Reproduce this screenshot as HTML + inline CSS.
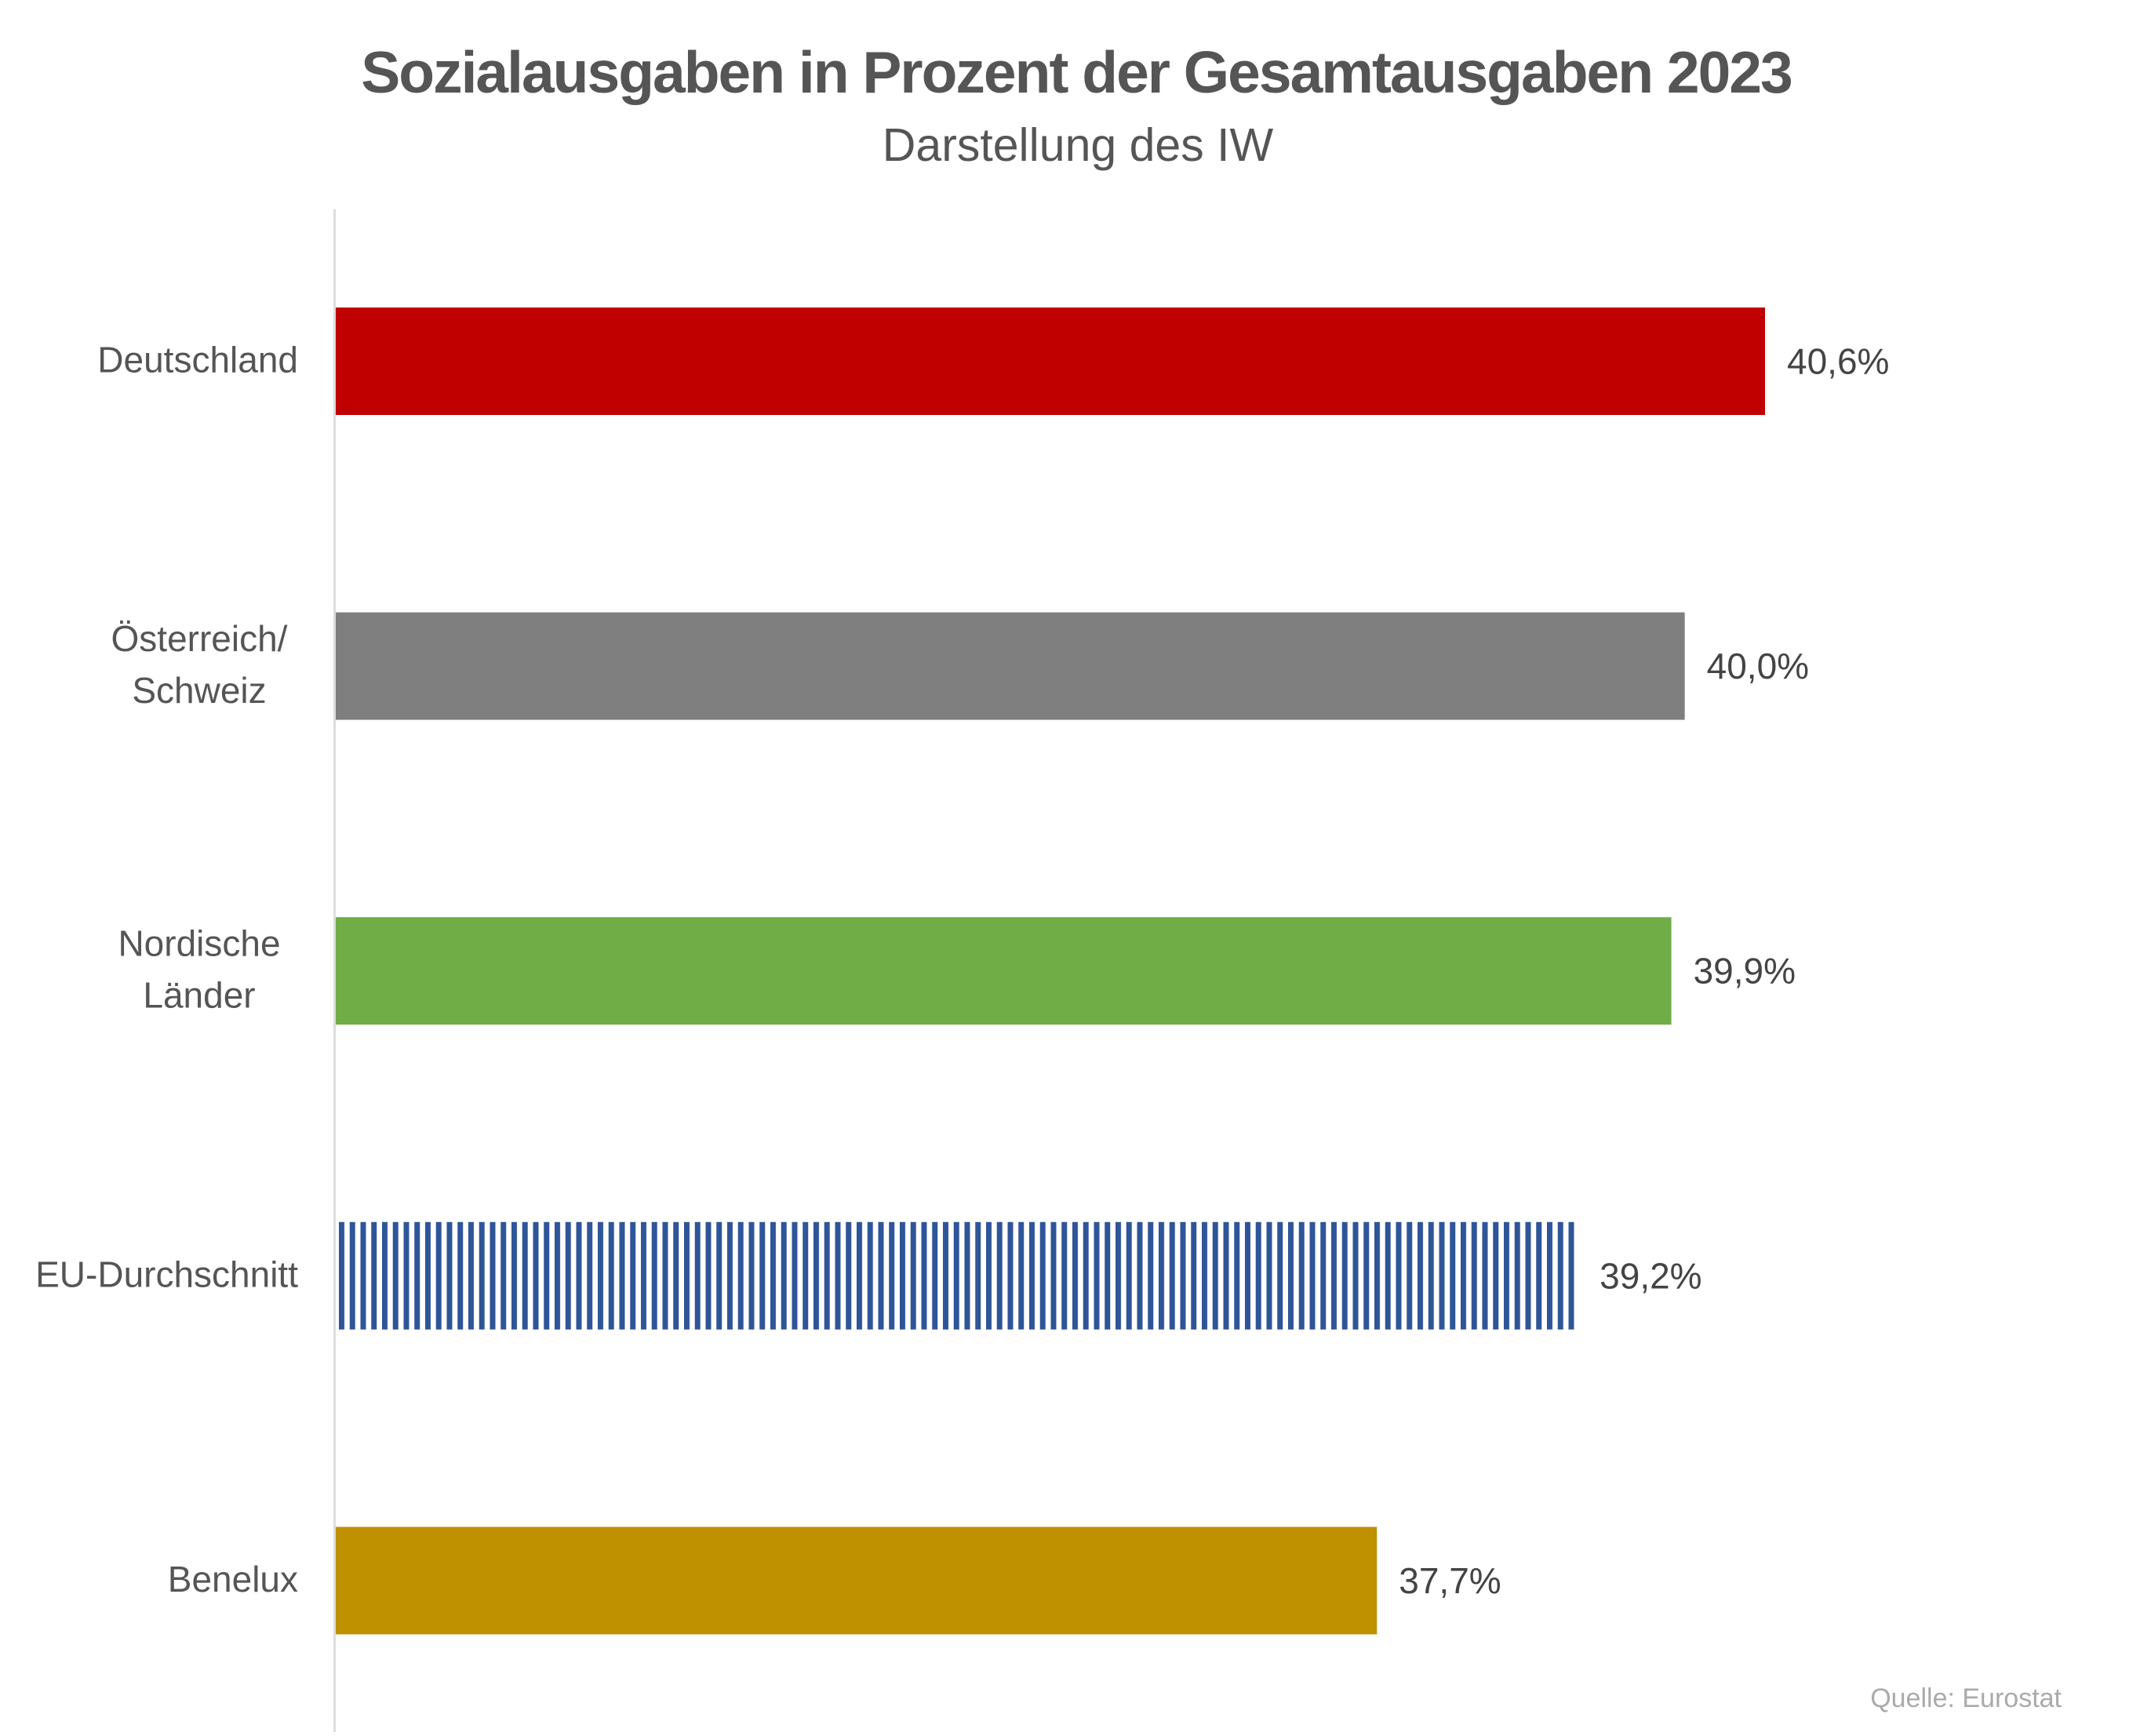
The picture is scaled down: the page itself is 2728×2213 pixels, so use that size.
<!DOCTYPE html>
<html><head><meta charset="utf-8"><style>
body{margin:0;background:#fff;width:2728px;height:2208px;overflow:hidden;font-family:"Liberation Sans",sans-serif;}
</style></head><body>
<svg width="2728" height="2208" viewBox="0 0 2728 2208">
<defs>
<pattern id="stripes" patternUnits="userSpaceOnUse" x="432" y="0" width="13.75" height="10">
<rect x="0" y="0" width="7" height="10" fill="#2e5597"/>
</pattern>
</defs>
<text x="1372" y="118" text-anchor="middle" font-size="75" font-weight="bold" fill="#555" letter-spacing="-2">Sozialausgaben in Prozent der Gesamtausgaben 2023</text>
<text x="1374" y="205" text-anchor="middle" font-size="59" fill="#555">Darstellung des IW</text>
<rect x="425" y="267" width="3" height="1941" fill="#ddd"/>
<g id="bars"></g>
<text x="2628" y="2176" text-anchor="end" font-size="34" fill="#aaa">Quelle: Eurostat</text>
</svg>
<script>
const categories=[["Deutschland"],["Österreich/","Schweiz"],["Nordische","Länder"],["EU-Durchschnitt"],["Benelux"]];
const values=[40.6,40.0,39.9,39.2,37.7];
const valueLabels=["40,6%","40,0%","39,9%","39,2%","37,7%"];
const colors=["#c00000","#7f7f7f","#70ad47","url(#stripes)","#bf9000"];
const x0=428, xMin=29.92, pxPer=170.6;
const xs=v=>x0+(v-xMin)*pxPer;
const yc=i=>460.5+i*388.6;
const g=document.getElementById('bars');
const NS="http://www.w3.org/2000/svg";
values.forEach((v,i)=>{
 const r=document.createElementNS(NS,'rect');
 r.setAttribute('x',x0);r.setAttribute('y',yc(i)-68.5);
 r.setAttribute('width',xs(v)-x0);r.setAttribute('height',137);
 r.setAttribute('fill',colors[i]);
 
 
 g.appendChild(r);
 const t=document.createElementNS(NS,'text');
 t.setAttribute('x',xs(v)+28);t.setAttribute('y',yc(i)+16);
 t.setAttribute('font-size','46');t.setAttribute('fill','#444');
 t.textContent=valueLabels[i];
 
 
 g.appendChild(t);
 const lines=categories[i];
 const l=document.createElementNS(NS,'text');
 l.setAttribute('text-anchor','middle');l.setAttribute('font-size','46');l.setAttribute('fill','#555');
 lines.forEach((s,k)=>{
  const ts=document.createElementNS(NS,'tspan');
  if(lines.length>1){ts.setAttribute('x',254);}else{ts.setAttribute('x',380);l.setAttribute('text-anchor','end');}
  ts.setAttribute('y',yc(i)+14+(k-(lines.length-1)/2)*66);
  ts.textContent=s;l.appendChild(ts);
 });
 
 
 g.appendChild(l);
});
</script>
</body></html>
